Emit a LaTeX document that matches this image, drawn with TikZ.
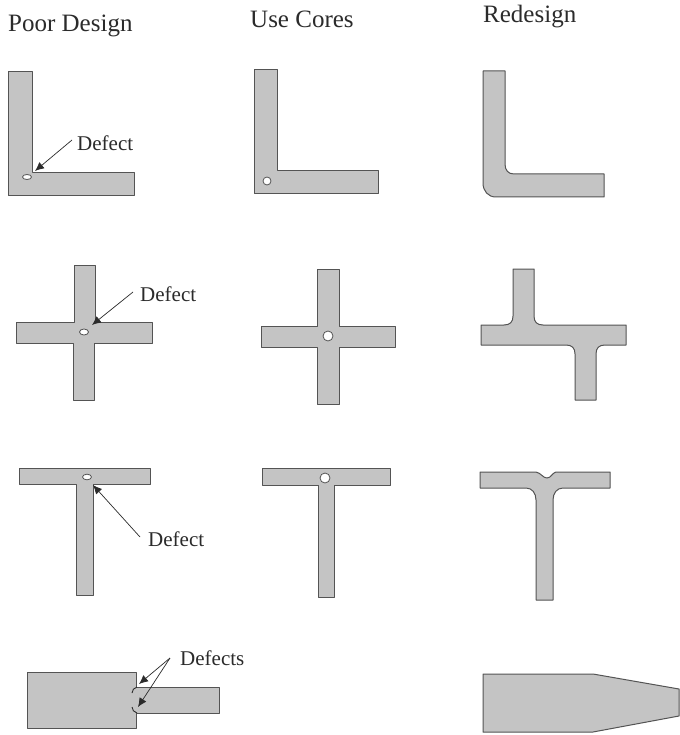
\documentclass[tikz,border=0pt]{standalone}
\usepackage{fontspec}
\setmainfont{Liberation Serif}
\usetikzlibrary{arrows.meta}
\definecolor{castfill}{gray}{0.77}
\definecolor{castline}{gray}{0.33}
\definecolor{inkc}{gray}{0.17}
\tikzset{
 cast/.style={draw=castline,fill=castfill,line width=1pt,line join=round},
 voidc/.style={draw=castline,fill=white,line width=0.8pt},
 lbl/.style={font=\fontsize{21}{23}\selectfont,text=inkc,inner sep=0pt,anchor=base west},
 hdg/.style={lbl,font=\fontsize{25}{27}\selectfont},
 arr/.style={draw=inkc,line width=0.7pt,-{Latex[length=9pt,width=8pt]}},
 crack/.style={draw=inkc,line width=0.9pt}
}
\begin{document}
\begin{tikzpicture}[x=1pt,y=-1pt]
\useasboundingbox (0,0) rectangle (679,735);
\fill[white] (0,0) rectangle (679,735);
% headings
\node[hdg] (h1) at (8,32) {Poor Design};
\node[hdg] (h2) at (250,28) {Use Cores};
\node[hdg] (h3) at (483,23) {Redesign};
% row 1
\draw[cast] (8,72) -- (32,72) -- (32,173) -- (134,173) -- (134,196) -- (8,196) -- cycle;
\draw[voidc] (27,177) ellipse (4.5 and 2.5);
\node[lbl] (d1) at (77,151) {Defect};
\coordinate (s1) at (72,140);
\coordinate (t1) at (35,171);
\draw[arr] (s1) -- (t1);
\draw[cast] (254,70) -- (277,70) -- (277,171) -- (378,171) -- (378,194) -- (254,194) -- cycle;
\draw[voidc] (267,181) circle (4);
\draw[cast] (483,71) -- (505,71) -- (505,164) .. controls (505,170) and (508,174) .. (514,174) -- (604,174) -- (604,197) -- (496,197) .. controls (488,197) and (483,191) .. (483,183) -- cycle;
% row 2
\draw[cast] (74,265) -- (95,265) -- (95,322) -- (152,322) -- (152,343) -- (94,343) -- (94,400) -- (73,400) -- (73,343) -- (16,343) -- (16,322) -- (74,322) -- cycle;
\draw[voidc] (84,332) ellipse (4.5 and 3);
\node[lbl] (d2) at (140,301) {Defect};
\coordinate (s2) at (133,292);
\coordinate (t2) at (92,325);
\draw[arr] (s2) -- (t2);
\draw[cast] (317,269) -- (339,269) -- (339,326) -- (395,326) -- (395,347) -- (339,347) -- (339,404) -- (317,404) -- (317,347) -- (261,347) -- (261,326) -- (317,326) -- cycle;
\draw[voidc] (328,336) circle (5);
\draw[cast] (513,269) -- (534,269) -- (534,316) .. controls (534,322) and (537,325) .. (543,325) -- (626,325) -- (626,345) -- (605,345) .. controls (599,345) and (596,348) .. (596,354) -- (596,400) -- (575,400) -- (575,354) .. controls (575,348) and (572,345) .. (566,345) -- (481,345) -- (481,325) -- (504,325) .. controls (510,325) and (513,322) .. (513,316) -- cycle;
% row 3
\draw[cast] (19,468) -- (150,468) -- (150,484) -- (93,484) -- (93,595) -- (76,595) -- (76,484) -- (19,484) -- cycle;
\draw[voidc] (87,477) ellipse (4.5 and 2.8);
\node[lbl] (d3) at (148,546) {Defect};
\coordinate (s3) at (140,537);
\coordinate (t3) at (93,485);
\draw[arr] (s3) -- (t3);
\draw[cast] (262,468) -- (390,468) -- (390,485) -- (334,485) -- (334,597) -- (318,597) -- (318,485) -- (262,485) -- cycle;
\draw[voidc] (325,478) circle (5);
\draw[cast] (480,472) -- (536,472) .. controls (541,473) and (543,478) .. (547,478) .. controls (551,478) and (552,473) .. (556,472) -- (610,472) -- (610,488) -- (563,488) .. controls (557,488) and (553,493) .. (553,500) -- (553,600) -- (536,600) -- (536,500) .. controls (536,493) and (532,488) .. (526,488) -- (480,488) -- cycle;
% row 4
\draw[cast] (27,672) -- (136,672) -- (136,687) -- (219,687) -- (219,713) -- (136,713) -- (136,728) -- (27,728) -- cycle;
\draw[crack] (137,687) .. controls (134,688) and (132,690) .. (132,693);
\draw[crack] (132,707) .. controls (132,710) and (134,712) .. (137,713);
\node[lbl] (d4) at (180,665) {Defects};
\coordinate (s4) at (170,658);
\coordinate (t4a) at (139,684);
\coordinate (t4b) at (138,707);
\draw[arr] (s4) -- (t4a);
\draw[arr] (s4) -- (t4b);
\draw[cast] (483,674) -- (593,674) -- (679,689) -- (679,716) -- (593,732) -- (483,732) -- cycle;
\end{tikzpicture}
\end{document}
